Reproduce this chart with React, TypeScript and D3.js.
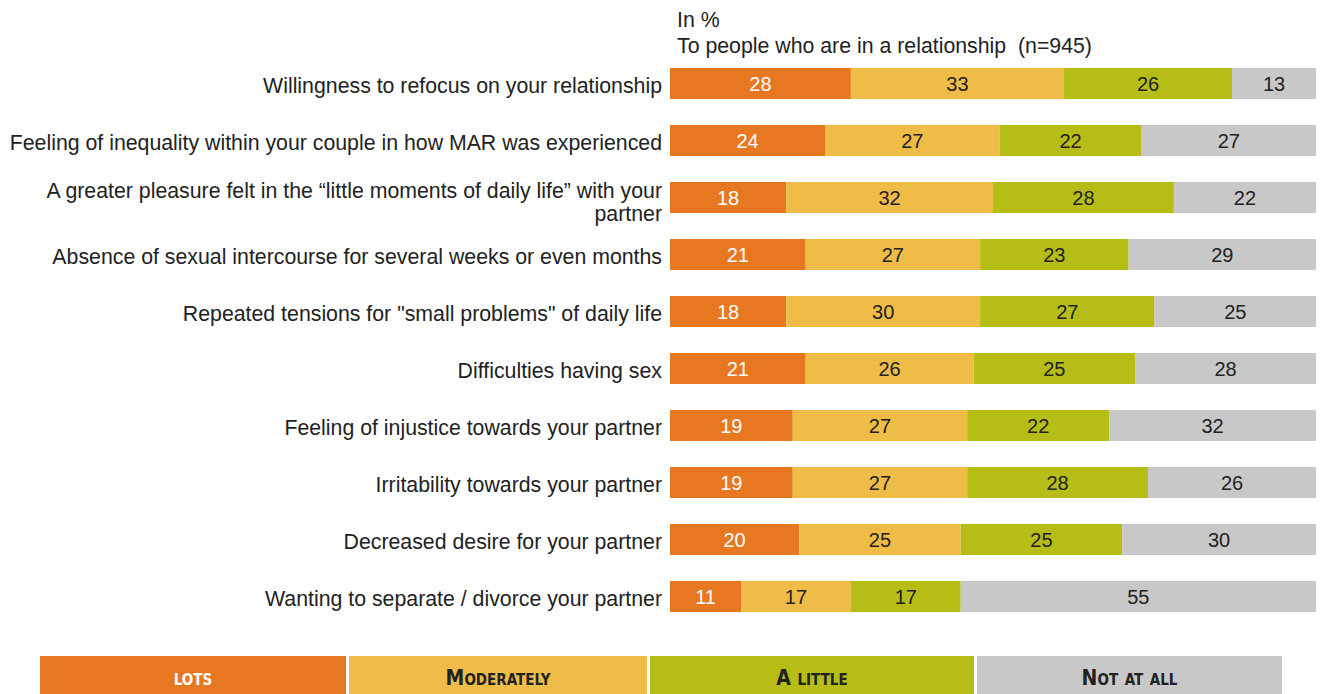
import React from "react";
import * as d3 from "d3";

const categories: string[][] = [
  ["Willingness to refocus on your relationship"],
  ["Feeling of inequality within your couple in how MAR was experienced"],
  ["A greater pleasure felt in the \u201clittle moments of daily life\u201d with your", "partner"],
  ["Absence of sexual intercourse for several weeks or even months"],
  ["Repeated tensions for \"small problems\" of daily life"],
  ["Difficulties having sex"],
  ["Feeling of injustice towards your partner"],
  ["Irritability towards your partner"],
  ["Decreased desire for your partner"],
  ["Wanting to separate / divorce your partner"],
];

const lots = [28, 24, 18, 21, 18, 21, 19, 19, 20, 11];
const moderately = [33, 27, 32, 27, 30, 26, 27, 27, 25, 17];
const aLittle = [26, 22, 28, 23, 27, 25, 22, 28, 25, 17];
const notAtAll = [13, 27, 22, 29, 25, 28, 32, 26, 30, 55];

const seriesNames = ["lots", "Moderately", "A little", "Not at all"];
const seriesColors = ["#E87722", "#F0BC48", "#B5BD16", "#C8C8C8"];
const seriesTextColors = ["#ffffff", "#222222", "#222222", "#222222"];

const titleLines = ["In %", "To people who are in a relationship  (n=945)"];

const W = 1322;
const H = 694;

export default function App() {
  const series = [lots, moderately, aLittle, notAtAll];
  const rows = categories.map((c, i) => ({
    idx: i,
    values: series.map((s) => s[i]),
  }));

  const x = d3.scaleLinear().domain([0, 100]).range([670, 1316]);
  const y = d3
    .scaleBand<number>()
    .domain(d3.range(categories.length))
    .range([55, 625])
    .paddingInner(0.456)
    .paddingOuter(0.228);

  // legend block edges
  const legendEdges = [40, 347, 648, 975, 1283];

  const font = "'Liberation Sans', Arial, Helvetica, sans-serif";

  return (
    <svg
      width={W}
      height={H}
      style={{ position: "absolute", left: 0, top: 0, background: "#fff" }}
      fontFamily={font}
    >
      {titleLines.map((t, i) => (
        <text
          key={i}
          x={677}
          y={27 + i * 25.5}
          fontSize={21.3}
          fill="#222"
          style={{ whiteSpace: "pre" }}
        >
          {t}
        </text>
      ))}
      {rows.map((r) => {
        const y0 = y(r.idx)!;
        const bh = y.bandwidth();
        const cy = y0 + bh / 2;
        const stack: number[] = [];
        let acc = 0;
        r.values.forEach((v) => {
          stack.push(acc);
          acc += v;
        });
        const lines = categories[r.idx];
        return (
          <g key={r.idx}>
            {lines.map((ln, li) => (
              <text
                key={li}
                x={662}
                y={cy + 2.5 + (li - (lines.length - 1) / 2) * 23 + (lines.length > 1 ? 2 : 0)}
                textAnchor="end"
                dominantBaseline="central"
                fontSize={21.3}
                fill="#222"
              >
                {ln}
              </text>
            ))}
            {r.values.map((v, si) => {
              const x0 = x(stack[si]);
              const x1 = x(stack[si] + v);
              return (
                <g key={si}>
                  <rect x={x0} y={y0} width={x1 - x0} height={bh} fill={seriesColors[si]} />
                  <text
                    x={(x0 + x1) / 2}
                    y={cy}
                    textAnchor="middle"
                    dominantBaseline="central"
                    fontSize={20}
                    fill={seriesTextColors[si]}
                  >
                    {v}
                  </text>
                </g>
              );
            })}
          </g>
        );
      })}
      {seriesNames.map((n, i) => {
        const x0 = legendEdges[i] + (i > 0 ? 2 : 0);
        const x1 = legendEdges[i + 1] - 1;
        return (
          <g key={n}>
            <rect x={x0} y={656} width={x1 - x0} height={40} fill={seriesColors[i]} />
            <text
              x={(x0 + x1) / 2}
              y={678}
              textAnchor="middle"
              dominantBaseline="central"
              fontSize={21}
              fontWeight="bold"
              fontFamily="'Liberation Sans Narrow', 'DejaVu Sans Condensed', Arial, sans-serif"
              style={{ fontVariant: "small-caps" }}
              fill={i === 0 ? "#ffffff" : "#222"}
            >
              {n}
            </text>
          </g>
        );
      })}
    </svg>
  );
}
